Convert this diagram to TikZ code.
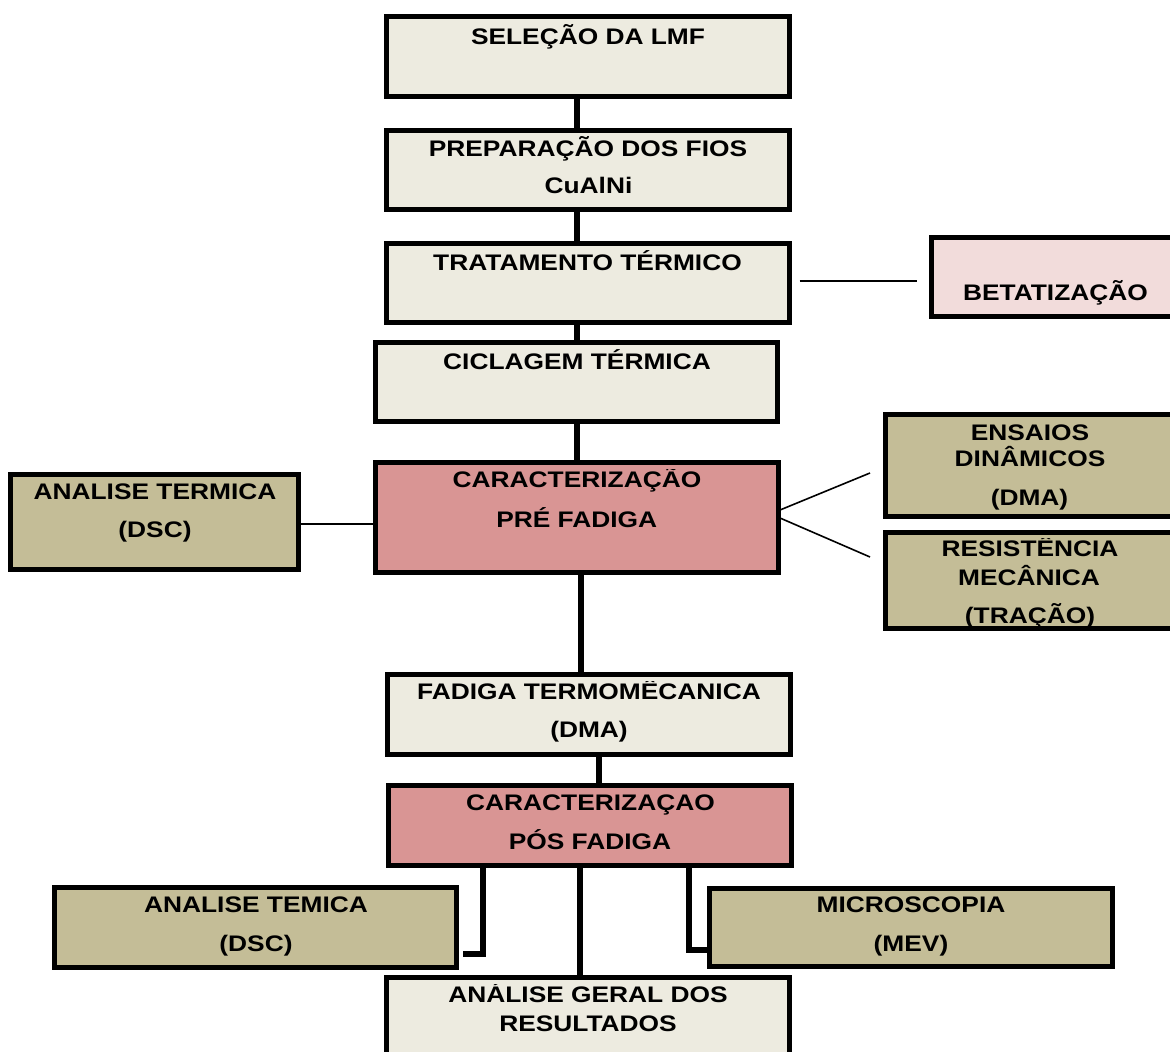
\documentclass[tikz,border=0pt]{standalone}
\usepackage{fontspec}
\setmainfont{Liberation Sans}[FakeStretch=1.17]
\usetikzlibrary{calc}
\definecolor{paper}{HTML}{EDEBE0}
\definecolor{tan}{HTML}{C4BD97}
\definecolor{rose}{HTML}{D99594}
\definecolor{blush}{HTML}{F2DCDB}
\begin{document}
\begin{tikzpicture}[x=1pt,y=-1pt,
  box/.style={draw=black, line width=5pt, inner sep=0pt, outer sep=0pt},
  link/.style={line width=6pt},
  fine/.style={line width=1.6pt},
  txt/.style={anchor=base, inner sep=0pt, font=\bfseries\fontsize{22.5}{27}\selectfont}]
\clip (0,0) rectangle (1170,1052);
\fill[white] (0,0) rectangle (1170,1052);

% process boxes
\node[box, fill=paper, minimum width=403pt, minimum height=80pt] (sel)  at (588,56.5) {};
\node[box, fill=paper, minimum width=403pt, minimum height=79pt] (prep) at (588,170) {};
\node[box, fill=paper, minimum width=403pt, minimum height=79pt] (trat) at (588,283) {};
\node[box, fill=paper, minimum width=402pt, minimum height=79pt] (cicl) at (576.5,382) {};
\node[box, fill=rose,  minimum width=403pt, minimum height=110pt] (pre) at (577,517.5) {};
\node[box, fill=paper, minimum width=403pt, minimum height=80pt] (fad)  at (589,714.5) {};
\node[box, fill=rose,  minimum width=403pt, minimum height=80pt] (pos)  at (590,825.5) {};
\node[box, fill=paper, minimum width=403pt, minimum height=85pt] (ger)  at (588,1020) {};
% side boxes
\node[box, fill=blush, minimum width=249pt, minimum height=79pt] (bet)  at (1056,277) {};
\node[box, fill=tan,   minimum width=288pt, minimum height=95pt] (atm)  at (154.5,522) {};
\node[box, fill=tan,   minimum width=289pt, minimum height=102pt] (ens) at (1030,465.5) {};
\node[box, fill=tan,   minimum width=289pt, minimum height=96pt] (res)  at (1030,580.5) {};
\node[box, fill=tan,   minimum width=402pt, minimum height=80pt] (ate)  at (255.5,927.5) {};
\node[box, fill=tan,   minimum width=403pt, minimum height=78pt] (mic)  at (911,927.5) {};

% main chain
\draw[link] (sel.south -| cicl.center) -- (prep.north -| cicl.center);
\draw[link] (prep.south -| cicl.center) -- (trat.north -| cicl.center);
\draw[link] (trat.south -| cicl.center) -- (cicl.north);
\draw[link] (cicl.south) -- (pre.north -| cicl.south);
\coordinate (k1) at ($(pre.south)+(4,0)$);
\draw[link] (k1) -- (k1 |- fad.north);
\coordinate (k2) at ($(fad.south)+(10,0)$);
\draw[link] (k2) -- (k2 |- pos.north);
\coordinate (k3) at ($(pos.south)+(-10,0)$);
\draw[link] (k3) -- (k3 |- ger.north);
% elbows to the post-fatigue analyses
\coordinate (k4) at ($(pos.south)+(-107,2)$);
\coordinate (k5) at ($(ate.east)+(6.5,26.5)$);
\draw[link] (k4) |- (k5);
\coordinate (k6) at ($(pos.south)+(99,2)$);
\coordinate (k7) at ($(mic.west)+(0,22.5)$);
\draw[link] (k6) |- (k7);

% thin branch lines
\draw[fine] ($(trat.east)+(10,-2)$) -- ($(bet.west)+(-14.5,4)$);
\draw[fine] ($(atm.east)+(2.5,2)$) -- ($(pre.west)+(-2.5,6.5)$);
\draw[fine] ($(pre.east)+(1.5,-7.5)$) -- ($(ens.west)+(-15.5,7.5)$);
\draw[fine] ($(pre.east)+(1.5,0.5)$) -- ($(res.west)+(-15.5,-23.5)$);

% labels
\node[txt] (t1)  at (588,44.3)   {SELEÇÃO DA LMF};
\node[txt] (t2a) at (588,156)    {PREPARAÇÃO DOS FIOS};
\node[txt] (t2b) at (588.5,193.3) {CuAlNi};
\node[txt] (t3)  at (587.5,270.7) {TRATAMENTO TÉRMICO};
\node[txt] (t4)  at (577,369)    {CICLAGEM TÉRMICA};
\begin{scope}
  \clip (380,469.8) rectangle (775,500);
  \node[txt] (t5a) at (577,487.7) {CARACTERIZAÇÃO};
\end{scope}
\node[txt] (t5b) at (576.7,527.3) {PRÉ FADIGA};
\node[txt] (t6)  at (1055.5,300) {BETATIZAÇÃO};
\node[txt] (t7a) at (155,499)    {ANALISE TERMICA};
\node[txt] (t7b) at (155,537.3)  {(DSC)};
\node[txt] (t8a) at (1030,440)   {ENSAIOS};
\node[txt] (t8b) at (1030,466.7) {DINÂMICOS};
\node[txt] (t8c) at (1029.5,505.5) {(DMA)};
\begin{scope}
  \clip (890,538.8) rectangle (1170,570);
  \node[txt] (t9a) at (1030,556.7) {RESISTÊNCIA};
\end{scope}
\node[txt] (t9b) at (1029,585)   {MECÂNICA};
\node[txt] (t9c) at (1030,623)   {(TRAÇÃO)};
\begin{scope}
  \clip (390,681.4) rectangle (790,710);
  \node[txt] (t10a) at (589,699.3) {FADIGA TERMOMÊCANICA};
\end{scope}
\node[txt] (t10b) at (589,737.3) {(DMA)};
\node[txt] (t11a) at (590.5,810) {CARACTERIZAÇAO};
\node[txt] (t11b) at (590,849)   {PÓS FADIGA};
\node[txt] (t12a) at (256,912.7) {ANALISE TEMICA};
\node[txt] (t12b) at (256,951)   {(DSC)};
\node[txt] (t13a) at (911,912.7) {MICROSCOPIA};
\node[txt] (t13b) at (911,951)   {(MEV)};
\begin{scope}
  \clip (390,984.6) rectangle (790,1015);
  \node[txt] (t14a) at (588,1002.5) {ANÁLISE GERAL DOS};
\end{scope}
\node[txt] (t14b) at (588,1031)  {RESULTADOS};
\end{tikzpicture}
\end{document}
